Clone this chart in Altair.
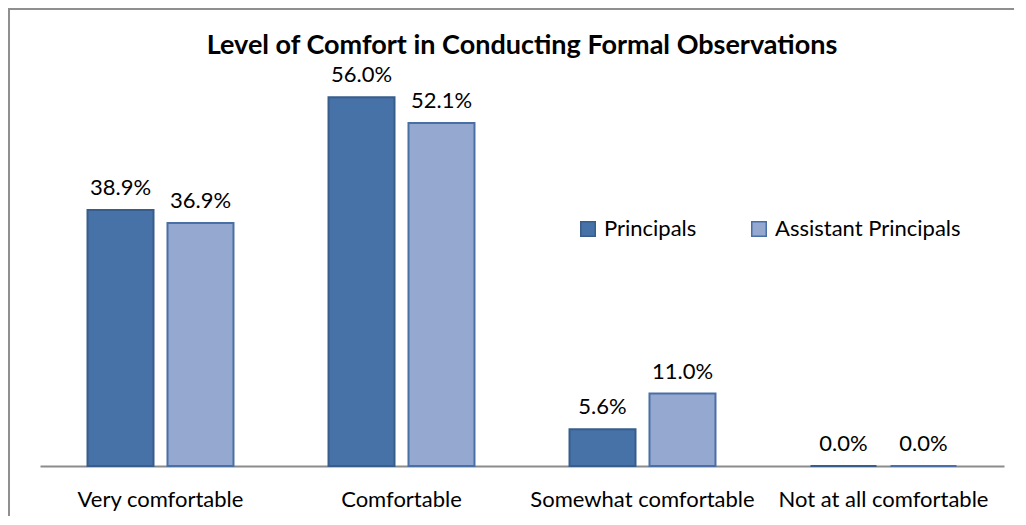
import altair as alt
import pandas as pd

categories = ["Very comfortable", "Comfortable", "Somewhat comfortable", "Not at all comfortable"]
series = ["Principals", "Assistant Principals"]
principals = [38.9, 56.0, 5.6, 0.0]
assistant = [36.9, 52.1, 11.0, 0.0]
title_text = "Level of Comfort in Conducting Formal Observations"

rows = []
for c, p, a in zip(categories, principals, assistant):
    rows.append({"cat": c, "group": series[0], "val": p, "label": f"{p:.1f}%"})
    rows.append({"cat": c, "group": series[1], "val": a, "label": f"{a:.1f}%"})
df = pd.DataFrame(rows)

FONT = "Lato"
FS = 22

x = alt.X("cat:N", sort=categories, title=None,
          scale=alt.Scale(paddingInner=0, paddingOuter=0),
          axis=alt.Axis(labelAngle=0, ticks=False, domainColor="#8C8C8C", domainWidth=2,
                        labelFontSize=FS, labelFont=FONT, labelColor="#000000",
                        labelPadding=23, labelLimit=0))
xo = alt.XOffset("group:N", sort=series,
                 scale=alt.Scale(paddingInner=0.175, paddingOuter=0.594))
y = alt.Y("val:Q", scale=alt.Scale(domain=[0, 60]), axis=None)

bars = alt.Chart(df).mark_bar(strokeWidth=2).encode(
    x=x, xOffset=xo, y=y,
    color=alt.Color("group:N", sort=series,
                    scale=alt.Scale(domain=series, range=["#4672A8", "#95A9D0"]),
                    legend=alt.Legend(title=None, orient="none", legendX=537, legendY=147,
                                      direction="horizontal", symbolType="square",
                                      symbolSize=210, symbolStrokeColor="#3E6394",
                                      symbolStrokeWidth=1.5, labelFontSize=FS, labelFont=FONT,
                                      labelColor="#000000", columnPadding=51, labelOffset=5,
                                      labelLimit=0)),
    stroke=alt.Stroke("group:N", sort=series,
                      scale=alt.Scale(domain=series, range=["#385D8A", "#4A6FA5"]),
                      legend=None),
)

labels = alt.Chart(df).mark_text(baseline="alphabetic", dy=-15, fontSize=FS, font=FONT,
                                 color="#000000").encode(
    x=x, xOffset=xo, y=y, text="label:N"
)

top_line = alt.Chart(df).mark_rule(stroke="#8F8F8F", strokeWidth=2).encode(
    x=alt.value(-31), x2=alt.value(1200), y=alt.value(-62)
)
left_line = alt.Chart(df).mark_rule(stroke="#8F8F8F", strokeWidth=2).encode(
    x=alt.value(-31), y=alt.value(-63), y2=alt.value(600)
)

title = alt.Chart(pd.DataFrame({"t": [title_text]})).mark_text(
    fontSize=27, font=FONT, fontWeight="bold", color="#000000", baseline="alphabetic",
    align="center").encode(x=alt.value(482), y=alt.value(-17), text="t:N")

chart = alt.layer(top_line, left_line, bars, labels, title).properties(
    width=964, height=395,
    autosize=alt.AutoSizeParams(type="none"),
    padding={"left": 32, "top": 63, "right": 10, "bottom": 50},
).configure_view(stroke=None)

chart.save("out.html", embed_options={"renderer": "svg", "actions": False})
